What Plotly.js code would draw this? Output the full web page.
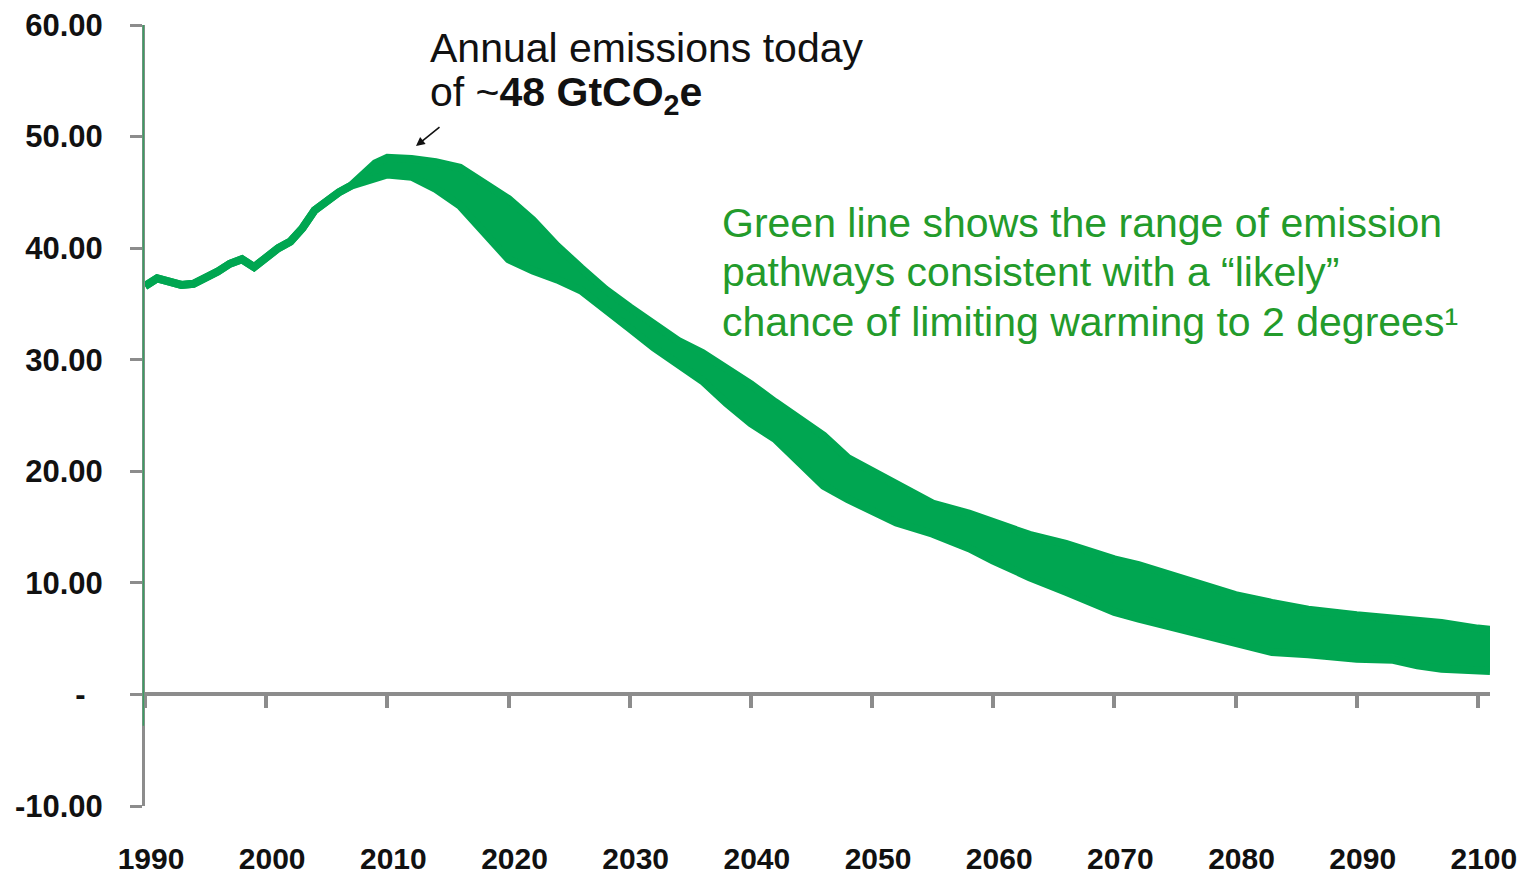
<!DOCTYPE html>
<html>
<head>
<meta charset="utf-8">
<script src="https://cdn.plot.ly/plotly-3.0.1.min.js"></script>
<style>html,body{margin:0;padding:0;background:#fff;}#chart{width:1526px;height:878px;}</style>
</head>
<body>
<div id="chart"></div>
<script>
// Years of the emission pathway
const years = [1990,1991,1992,1993,1994,1995,1996,1997,1998,1999,2000,2001,2002,2003,2004,2005,2006,2007,2008,2009,2010,2012,2014,2016,2018,2020,2022,2024,2026,2028,2030,2032,2034,2036,2038,2040,2042,2044,2046,2048,2050,2052,2055,2058,2060,2063,2066,2068,2070,2072,2075,2078,2080,2083,2086,2090,2093,2095,2097,2100,2101];
// Upper bound of the pathway range (GtCO2e)
const upper = [36.6,37.3,37.0,36.7,36.8,37.3,37.9,38.6,39.0,38.3,39.2,40.0,40.6,41.8,43.4,44.3,45.0,45.6,46.6,47.6,48.1,48.0,47.7,47.2,45.8,44.4,42.5,40.2,38.2,36.3,34.7,33.1,31.7,30.6,29.3,27.8,26.2,24.7,23.2,21.2,20.0,18.8,17.1,16.2,15.4,14.3,13.5,12.8,12.1,11.6,10.6,9.6,8.9,8.2,7.6,7.1,6.8,6.6,6.4,5.9,5.8];
// Lower bound of the pathway range (GtCO2e)
const lower = [36.6,37.3,37.0,36.7,36.8,37.3,37.9,38.6,39.0,38.3,39.2,40.0,40.6,41.8,43.4,44.3,45.0,45.6,45.9,46.2,46.6,46.4,45.3,43.8,41.4,39.0,38.0,37.2,36.2,34.6,32.8,31.1,29.6,28.1,26.1,24.3,22.9,20.7,18.7,17.5,16.5,15.4,14.4,13.1,12.0,10.5,9.2,8.3,7.4,6.8,6.0,5.1,4.5,3.8,3.6,3.2,3.1,2.6,2.3,2.1,2.1];
// Axis ticks
const xTicks = [1990,2000,2010,2020,2030,2040,2050,2060,2070,2080,2090,2100];
const xTickText = ['1990','2000','2010','2020','2030','2040','2050','2060','2070','2080','2090','2100'];
const yTicks = [-10,0,10,20,30,40,50,60];
const yTickText = ['-10.00','-\u00a0\u00a0','10.00','20.00','30.00','40.00','50.00','60.00'];
// Annotation texts
const calloutLines = ['Annual emissions today', 'of ~<b>48 GtCO<sub>2</sub>e</b>'];
const noteLines = ['Green line shows the range of emission', 'pathways consistent with a \u201clikely\u201d', 'chance of limiting warming to 2 degrees\u00b9'];

const GREEN = '#00a651';
const GRAY = '#8c8c8c';
const FONT = 'Liberation Sans, Arial, sans-serif';

const traces = [
  {x: years, y: lower, type: 'scatter', mode: 'lines', line: {color: GREEN, width: 8}, hoverinfo: 'skip'},
  {x: years, y: upper, type: 'scatter', mode: 'lines', fill: 'tonexty', fillcolor: GREEN, line: {color: GREEN, width: 8}, hoverinfo: 'skip'}
];

const yTickFont = {family: FONT, size: 31, color: '#111', weight: 'bold'};
const xTickFont = {family: FONT, size: 30, color: '#111', weight: 'bold'};

const annotations = [];
calloutLines.forEach((t, i) => annotations.push({
  xref: 'paper', yref: 'paper', x: (428 - 145) / 1345, y: (806 - (73 + 50 * i)) / 781,
  xanchor: 'left', yanchor: 'bottom', align: 'left', showarrow: false, text: t,
  font: {family: FONT, size: 41, color: '#111'}
}));
annotations.push({xref: 'paper', yref: 'paper', x: (416 - 145) / 1345, y: (806 - 146) / 781, ax: 25, ay: -20,
  text: '', showarrow: true, arrowhead: 2, arrowsize: 1.1, arrowwidth: 1.6,
  arrowcolor: '#111', standoff: 0, startstandoff: 0});
noteLines.forEach((t, i) => annotations.push({
  xref: 'paper', yref: 'paper', x: (720 - 145) / 1345, y: (806 - (248 + 49.5 * i)) / 781,
  xanchor: 'left', yanchor: 'bottom', align: 'left', showarrow: false, text: t,
  font: {family: FONT, size: 41, color: '#239b2b'}
}));

const layout = {
  width: 1526, height: 878,
  margin: {l: 145, r: 36, t: 25, b: 72},
  paper_bgcolor: '#fff', plot_bgcolor: '#fff',
  showlegend: false,
  xaxis: {
    range: [1990, 2101], anchor: 'free', position: 10 / 70,
    showgrid: false, zeroline: false,
    showline: true, linecolor: GRAY, linewidth: 4,
    ticks: 'outside', ticklen: 12, tickwidth: 4, tickcolor: GRAY,
    tickvals: xTicks, ticktext: xTickText, tickfont: xTickFont,
    ticklabelstandoff: 125, ticklabelshift: 6
  },
  yaxis: {
    range: [-10, 60], showgrid: false, zeroline: false,
    showline: true, linecolor: GRAY, linewidth: 3,
    ticks: 'outside', ticklen: 12, tickwidth: 3, tickcolor: GRAY,
    tickvals: yTicks, ticktext: yTickText, tickfont: yTickFont,
    ticklabelstandoff: 21
  },
  shapes: [
    {type: 'line', xref: 'paper', yref: 'y', x0: -0.0012, x1: -0.0012, y0: -2.8, y1: 60,
     line: {color: '#3a9e62', width: 1.5}}
  ],
  annotations: annotations
};

Plotly.newPlot('chart', traces, layout, {displayModeBar: false, staticPlot: true});
</script>
</body>
</html>
